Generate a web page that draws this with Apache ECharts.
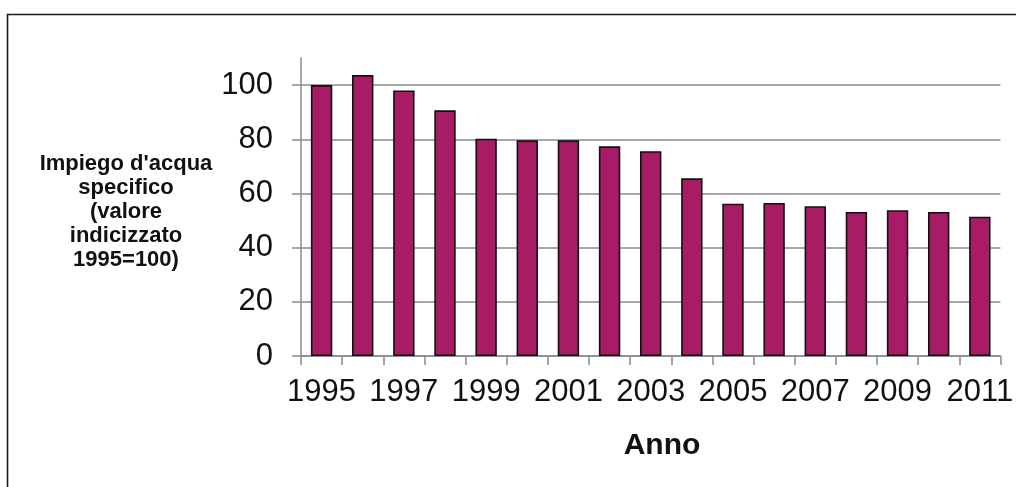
<!DOCTYPE html>
<html>
<head>
<meta charset="utf-8">
<script src="https://cdn.jsdelivr.net/npm/echarts@6/dist/echarts.min.js"></script>
<style>
  html, body { margin: 0; padding: 0; background: #fff; }
  #chart { width: 1016px; height: 487px; }
</style>
</head>
<body>
<div id="chart"></div>
<script>
// Index of specific water use, 1995 = 100
const years = ['1995', '1996', '1997', '1998', '1999', '2000', '2001', '2002', '2003',
               '2004', '2005', '2006', '2007', '2008', '2009', '2010', '2011'];
const indexValues = [100, 103.7, 98.0, 90.7, 80.2, 79.6, 79.6, 77.4, 75.6,
                     65.6, 56.2, 56.5, 55.3, 53.2, 53.8, 53.2, 51.4];
const yTicks = [0, 20, 40, 60, 80, 100];
const yTitleLines = ["Impiego d'acqua", 'specifico', '(valore', 'indicizzato', '1995=100)'];
const xTitle = 'Anno';

const chart = echarts.init(document.getElementById('chart'), null, { renderer: 'canvas' });

const FONT = '"Liberation Sans", Arial, sans-serif';
const AXIS_GRAY = '#8a8a8a';

chart.setOption({
  animation: false,
  backgroundColor: '#ffffff',
  grid: { left: 301, right: 10, top: 58, bottom: 131, containLabel: false },
  graphic: [
    {
      type: 'rect',
      shape: { x: 7.5, y: 14.5, width: 1200, height: 600 },
      style: { fill: 'none', stroke: '#1a1a1a', lineWidth: 1.6 },
      silent: true
    },
    {
      type: 'text',
      x: 126, y: 212,
      style: {
        text: yTitleLines.join('\n'),
        font: 'bold 22px ' + FONT,
        fill: '#111',
        align: 'center',
        verticalAlign: 'middle',
        lineHeight: 24
      }
    },
    {
      type: 'text',
      x: 662, y: 446,
      style: {
        text: xTitle,
        font: 'bold 30px ' + FONT,
        fill: '#111',
        align: 'center',
        verticalAlign: 'middle'
      }
    }
  ],
  xAxis: {
    type: 'category',
    data: years,
    boundaryGap: true,
    axisLine: { show: true, lineStyle: { color: AXIS_GRAY, width: 1.5 } },
    axisTick: { show: true, interval: 0, length: 9, inside: false,
                lineStyle: { color: AXIS_GRAY, width: 1.5 } },
    axisLabel: { interval: 1, margin: 21, fontFamily: FONT, fontSize: 31, color: '#111' },
    splitLine: { show: false }
  },
  yAxis: {
    type: 'value',
    min: 0,
    max: 110,
    interval: 20,
    axisLine: { show: true, lineStyle: { color: AXIS_GRAY, width: 1.5 } },
    axisTick: { show: true, length: 9, customValues: yTicks,
                lineStyle: { color: AXIS_GRAY, width: 1.5 } },
    axisLabel: { margin: 28, fontFamily: FONT, fontSize: 31, color: '#111',
                 customValues: yTicks },
    splitLine: { show: true, lineStyle: { color: AXIS_GRAY, width: 1.5 } }
  },
  series: [{
    type: 'bar',
    data: indexValues,
    barCategoryGap: '48%',
    itemStyle: { color: '#a81c66', borderColor: '#111', borderWidth: 1.6 }
  }]
});
</script>
</body>
</html>
